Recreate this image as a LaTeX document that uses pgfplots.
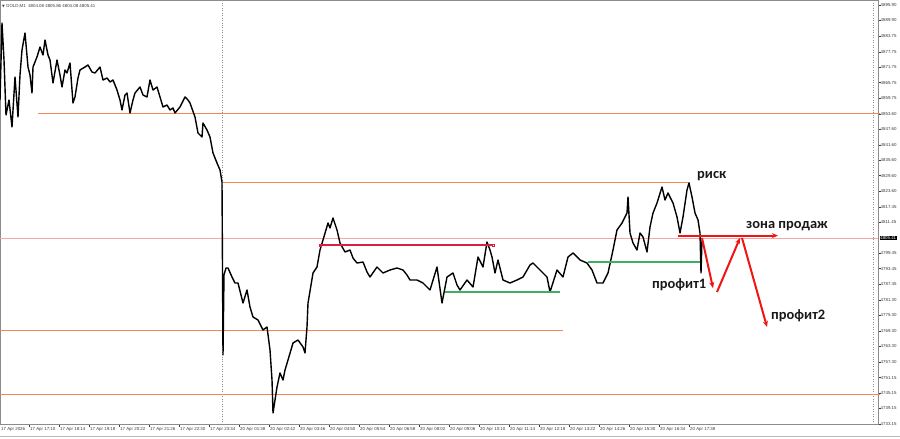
\documentclass[border=0pt]{standalone}
\usepackage{fontspec}
\setmainfont{Liberation Sans}
\newfontfamily\annot{Carlito}
\newfontfamily\dejavu{DejaVu Sans}
\usepackage{pgfplots}
\usepackage{pgfplotstable}
\pgfplotsset{compat=1.18}
\usetikzlibrary{arrows.meta}
\definecolor{orangeL}{RGB}{240,135,85}
\definecolor{priceL}{RGB}{245,165,165}
\definecolor{crim}{RGB}{220,30,70}
\definecolor{grn}{RGB}{60,175,100}
\definecolor{redA}{RGB}{240,20,20}
\definecolor{axgray}{RGB}{140,140,140}
\definecolor{lbl}{RGB}{60,60,60}

\pgfplotstableread{
x y
0 4858.99
2 4888.90
4 4874.53
6 4853.16
9 4858.99
12 4848.50
15 4867.93
18 4852.38
20 4868.70
22 4878.41
25 4885.02
28 4871.81
30 4868.70
32 4861.71
33 4871.81
37 4875.70
40 4879.58
43 4876.47
45 4882.30
48 4876.47
50 4874.53
53 4865.60
57 4874.53
60 4868.70
62 4864.04
65 4870.64
67 4869.48
70 4873.36
73 4857.82
75 4860.16
78 4867.54
80 4870.64
85 4871.81
88 4872.59
92 4869.87
95 4869.48
100 4871.81
103 4866.76
107 4867.54
110 4865.98
113 4866.76
117 4862.87
120 4858.99
122 4855.11
125 4860.93
127 4861.71
130 4853.94
133 4858.99
135 4861.71
140 4864.04
143 4860.93
147 4860.16
150 4866.76
153 4862.87
157 4864.04
160 4860.16
163 4856.27
167 4857.05
170 4855.11
173 4855.88
175 4853.94
180 4856.27
185 4860.16
188 4858.99
190 4857.82
195 4852.38
198 4846.17
202 4844.61
203 4850.05
207 4847.34
210 4844.61
213 4838.40
217 4834.51
220 4831.79
222 4827.13
223 4759.92
224 4790.99
226 4793.72
228 4793.72
232 4790.22
235 4787.89
238 4787.89
243 4780.12
247 4785.17
250 4778.57
253 4774.68
258 4773.52
263 4769.64
267 4770.80
270 4761.87
272 4750.21
273 4737.39
275 4742.44
277 4747.49
280 4752.93
283 4750.21
285 4754.09
288 4757.98
293 4764.58
298 4765.75
303 4763.03
305 4760.70
307 4770.80
308 4780.12
313 4791.78
317 4794.11
320 4800.71
323 4804.60
328 4811.20
330 4809.26
333 4813.15
337 4808.49
340 4803.43
345 4799.94
350 4800.71
353 4797.60
357 4795.66
363 4796.05
367 4792.17
370 4790.22
377 4794.11
383 4791.78
390 4792.94
397 4793.72
403 4792.94
407 4791.00
410 4789.06
417 4789.06
423 4787.89
430 4785.17
437 4794.11
442 4780.12
447 4790.22
453 4791.78
457 4787.12
460 4785.17
467 4789.06
473 4786.34
478 4797.99
483 4794.11
487 4803.82
490 4800.71
492 4797.99
495 4791.78
498 4796.83
503 4789.06
510 4787.89
517 4789.06
523 4790.22
530 4794.89
533 4795.66
540 4792.94
547 4790.22
550 4784.40
557 4792.94
563 4790.22
568 4797.99
573 4799.55
580 4796.83
587 4795.66
592 4792.94
597 4787.89
603 4787.89
608 4791.78
613 4800.71
617 4808.49
622 4811.20
627 4815.09
628 4821.31
630 4807.32
633 4803.43
637 4800.71
640 4807.32
643 4805.77
647 4799.94
650 4809.65
653 4815.09
657 4818.98
662 4825.19
665 4820.14
668 4822.86
673 4818.98
677 4813.54
680 4807.32
683 4813.54
687 4824.03
689 4826.74
692 4821.31
695 4815.09
698 4812.37
700 4807.32
701 4791.78
702 4804.60
}\price

\begin{document}
\begin{tikzpicture}
\begin{axis}[name=ax, scale only axis, width=878bp, height=424.3bp,
  xmin=0, xmax=878, ymin=4733.0, ymax=4897.84,
  axis line style={axgray, line width=0.6bp},
  tick style={lbl, line width=0.4bp},
  tick align=outside, major tick length=2.5bp,
  xtick pos=bottom, ytick pos=right, yticklabel pos=right,
  /pgf/number format/assume math mode=true,
  scaled y ticks=false,
  ticklabel style={font=\fontsize{4.4}{5}\selectfont, text=lbl, inner sep=0.5bp},
  yticklabel style={anchor=west, xshift=-0.5bp, /pgf/number format/.cd, fixed, fixed zerofill, precision=2, 1000 sep={}},
  ytick={4733.15,4739.15,4745.15,4751.15,4757.30,4763.30,4769.30,4775.30,4781.30,4787.45,4793.45,4799.45,4811.45,4817.45,4823.60,4829.60,4835.60,4841.60,4847.60,4853.60,4859.75,4865.75,4871.75,4877.75,4883.75,4889.90,4895.90},
  xtick={29,59,89,119,149,179,209,239,269,299,329,359,389,419,449,479,509,539,569,599,629,659,689},
  xticklabels={17 Apr 17:10,17 Apr 18:14,17 Apr 19:18,17 Apr 20:22,17 Apr 21:26,17 Apr 22:30,17 Apr 23:34,20 Apr 01:38,20 Apr 02:42,20 Apr 03:46,20 Apr 04:50,20 Apr 05:54,20 Apr 06:58,20 Apr 08:02,20 Apr 09:06,20 Apr 10:10,20 Apr 11:14,20 Apr 12:18,20 Apr 13:22,20 Apr 14:26,20 Apr 15:30,20 Apr 16:34,20 Apr 17:38},
  xticklabel style={anchor=north west, xshift=0.5bp},
  clip=false,
]
% separators
\addplot[axgray, dotted, line width=0.5bp] coordinates {(222,4733.0) (222,4897.84)};
\addplot[axgray, dotted, line width=0.5bp] coordinates {(873,4733.0) (873,4897.84)};
% orange levels
\addplot[orangeL, line width=1bp] coordinates {(38,4853.55) (880,4853.55)};
\addplot[orangeL, line width=1bp] coordinates {(222,4827.1) (690,4827.1)};
\addplot[orangeL, line width=1bp] coordinates {(0,4769.6) (563,4769.6)};
\addplot[orangeL, line width=1bp] coordinates {(0,4744.7) (880,4744.7)};
% current price line
\addplot[priceL, line width=0.7bp] coordinates {(0,4805.41) (878,4805.41)};
% price series
\addplot[black, line width=1.4bp, line join=round] table[x=x, y=y] {\price};
% crimson & green
\addplot[crim, line width=2bp, mark=square, mark size=1.2bp, mark options={line width=0.4bp}] coordinates {(320,4802.6) (493,4802.6)};
\addplot[grn, line width=2bp] coordinates {(445,4784.4) (560,4784.4)};
\addplot[grn, line width=2bp] coordinates {(588,4796.0) (700,4796.0)};
% red arrows
\addplot[redA, line width=2bp, -{Stealth[length=6bp,width=5bp]}] coordinates {(678,4806.3) (778,4806.3)};
\addplot[redA, line width=2bp, -{Stealth[length=6bp,width=5bp]}] coordinates {(702,4805.4) (713,4785.9)};
\addplot[redA, line width=2bp, -{Stealth[length=6bp,width=5bp]}] coordinates {(717,4784.4) (740,4805.4)};
\addplot[redA, line width=2bp, -{Stealth[length=6bp,width=5bp]}] coordinates {(742,4805.4) (767,4770.8)};
% annotations
\node[anchor=west, inner sep=0pt, font=\annot\bfseries\fontsize{14.5}{15}\selectfont, text=black!90] at (axis cs:697,4829.4) {риск};
\node[anchor=west, inner sep=0pt, font=\annot\bfseries\fontsize{14.5}{15}\selectfont, text=black!90] at (axis cs:746,4810.0) {зона продаж};
\node[anchor=west, inner sep=0pt, font=\annot\bfseries\fontsize{14.5}{15}\selectfont, text=black!90] at (axis cs:652,4787.4) {профит1};
\node[anchor=west, inner sep=0pt, font=\annot\bfseries\fontsize{14.5}{15}\selectfont, text=black!90] at (axis cs:771,4775.1) {профит2};
% current price tag
\node[anchor=west, fill=black, text=white, inner sep=0.6bp, font=\fontsize{4.4}{5}\selectfont] at (axis cs:879.5,4805.41) {4805.41};
\end{axis}
\node[anchor=north west, inner sep=0pt, font=\fontsize{4.4}{5}\selectfont, text=lbl] at ([xshift=2bp,yshift=-4bp]ax.north west) {{\dejavu\fontsize{3.5}{4}\selectfont ▼} GOLD,M1\ \ 4804.08 4805.86 4804.08 4805.41};
\node[anchor=north west, inner sep=0.5bp, font=\fontsize{4.4}{5}\selectfont, text=lbl] at ([xshift=0.5bp,yshift=-2.5bp]ax.south west) {17 Apr 2026};
\draw[axgray!60, line width=0.6bp] ([yshift=-12bp]ax.south west) -- ++(900bp,0);
\pgfresetboundingbox
\path[use as bounding box] (ax.north west) rectangle ++(900bp,-439bp);
\end{tikzpicture}
\end{document}
